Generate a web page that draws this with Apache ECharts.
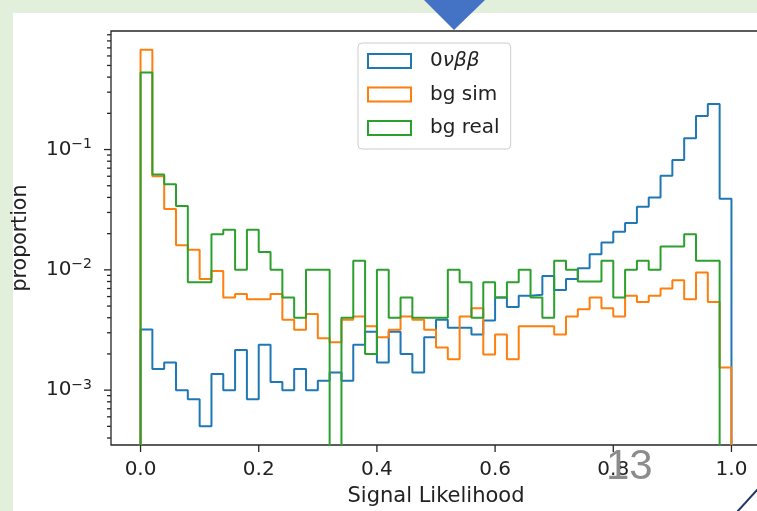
<!DOCTYPE html>
<html>
<head>
<meta charset="utf-8">
<script src="https://cdn.jsdelivr.net/npm/echarts@6/dist/echarts.min.js"></script>
<style>
  html, body { margin: 0; padding: 0; background: #e2efda; }
  #slide { position: absolute; left: 13px; top: 13px; width: 744px; height: 498px; background: #fff; }
  #main { position: absolute; left: 0; top: 0; width: 757px; height: 511px; }
</style>
</head>
<body>
<div id="slide"></div>
<div id="main"></div>
<script>
// histogram bin edges, 50 bins on [0, 1]
var binEdges = [0, 0.02, 0.04, 0.06, 0.08, 0.1, 0.12, 0.14, 0.16, 0.18,
    0.2, 0.22, 0.24, 0.26, 0.28, 0.3, 0.32, 0.34, 0.36, 0.38,
    0.4, 0.42, 0.44, 0.46, 0.48, 0.5, 0.52, 0.54, 0.56, 0.58,
    0.6, 0.62, 0.64, 0.66, 0.68, 0.7, 0.72, 0.74, 0.76, 0.78,
    0.8, 0.82, 0.84, 0.86, 0.88, 0.9, 0.92, 0.94, 0.96, 0.98, 1.0]

var signal = [0.0032, 0.0015, 0.0017, 0.0010, 0.00084, 0.00050, 0.00136, 0.0010, 0.00216, 0.00084,
    0.00238, 0.00117, 0.0010, 0.0015, 0.0010, 0.0012, 0.0014, 0.0012, 0.00238, 0.00306,
    0.0017, 0.00306, 0.0020, 0.0014, 0.00275, 0.00384, 0.0033, 0.0033, 0.0029, 0.0038,
    0.0059, 0.0049, 0.0061, 0.0062, 0.0089, 0.0068, 0.0084, 0.0103, 0.0135, 0.0169,
    0.0207, 0.0245, 0.0335, 0.040, 0.0605, 0.082, 0.124, 0.19, 0.239, 0.039]

var bgSim = [0.675, 0.060, 0.032, 0.016, 0.0147, 0.0084, 0.0098, 0.0059, 0.0063, 0.0057,
    0.0057, 0.0063, 0.00384, 0.00317, 0.0043, 0.0027, 0.0025, 0.00384, 0.0041, 0.0034,
    0.00275, 0.00317, 0.0041, 0.00384, 0.00317, 0.00226, 0.00181, 0.0041, 0.0048, 0.00198,
    0.0029, 0.00181, 0.0034, 0.0034, 0.0034, 0.0029, 0.0041, 0.0047, 0.0059, 0.0048,
    0.0041, 0.0061, 0.0054, 0.0061, 0.0070, 0.0082, 0.0057, 0.0095, 0.0054, 0.00154]

var bgReal = [0.438, 0.062, 0.0515, 0.034, 0.0079, 0.0079, 0.0198, 0.0215, 0.0100, 0.0215,
    0.0141, 0.0100, 0.0059, 0.0040, 0.0100, 0.0100, 0, 0.0040, 0.0119, 0.0020,
    0.0100, 0.0040, 0.0059, 0.0040, 0.0040, 0.0040, 0.0100, 0.0079, 0.0040, 0.0079,
    0.0059, 0.0079, 0.0100, 0.0059, 0.0040, 0.0119, 0.0100, 0.0080, 0.0080, 0.0119,
    0.0059, 0.0100, 0.0119, 0.0100, 0.0156, 0.0156, 0.0198, 0.0119, 0.0119, 0]

var seriesNames = ['0νββ', 'bg sim', 'bg real']
var colors = ['#1f77b4', '#ff7f0e', '#2ca02c']

var xTicks = [0, 0.2, 0.4, 0.6, 0.8, 1.0]
var yMajorTicks = [1e-3, 1e-2, 1e-1]
var yMinorTicks = [4e-4, 5e-4, 6e-4, 7e-4, 8e-4, 9e-4,
    2e-3, 3e-3, 4e-3, 5e-3, 6e-3, 7e-3, 8e-3, 9e-3,
    2e-2, 3e-2, 4e-2, 5e-2, 6e-2, 7e-2, 8e-2, 9e-2,
    0.2, 0.3, 0.4, 0.5, 0.6, 0.7, 0.8, 0.9]

var X_MIN = -0.05, X_MAX = 1.05
var Y_MIN = 3.5e-4, Y_MAX = 0.967
var FLOOR = 1e-6   // empty bins go below the axis, like log(0) in matplotlib

var FONT = 'DejaVu Sans'
var TEXT = '#222'

// step outline (histtype='step')
function toSteps (values) {
    var pts = [[binEdges[0], FLOOR]]
    values.forEach(function (v, i) {
        pts.push([binEdges[i], v > 0 ? v : FLOOR])
    })
    pts.push([binEdges[binEdges.length - 1], FLOOR])
    return pts
}

function histSeries (name, values, color) {
    return {
        name: name,
        type: 'line',
        step: 'end',
        data: toSteps(values),
        showSymbol: false,
        symbol: 'none',
        clip: true,
        lineStyle: { color: color, width: 2 },
        itemStyle: { color: color },
        z: 3
    }
}

// tick marks drawn outward, matplotlib style
function tickSeries (data, dir) {
    return {
        type: 'custom',
        silent: true,
        z: 6,
        data: data,
        renderItem: function (params, api) {
            var p = api.coord([api.value(0), api.value(1)])
            var len = api.value(2)
            var shape = dir === 'y'
                ? { x1: p[0] - len, y1: p[1], x2: p[0], y2: p[1] }
                : { x1: p[0], y1: p[1], x2: p[0], y2: p[1] + len }
            return { type: 'line', shape: shape, style: { stroke: '#262626', lineWidth: 1.3 } }
        }
    }
}

var yTickData = yMajorTicks.map(function (v) { return [X_MIN, v, 7] })
    .concat(yMinorTicks.map(function (v) { return [X_MIN, v, 4] }))
var xTickData = xTicks.map(function (v) { return [v, Y_MIN, 7] })

var myChart = echarts.init(document.getElementById('main'))

myChart.setOption({
    animation: false,
    backgroundColor: 'transparent',
    grid: {
        left: 111, top: 31, width: 650, height: 414,
        show: true, borderColor: '#262626', borderWidth: 1.3,
        backgroundColor: 'transparent',
        outerBoundsMode: 'none'
    },
    xAxis: {
        type: 'value', min: X_MIN, max: X_MAX,
        name: 'Signal Likelihood', nameLocation: 'middle', nameGap: 41,
        nameTextStyle: { fontFamily: FONT, fontSize: 21, color: TEXT },
        axisLine: { show: false }, axisTick: { show: false }, splitLine: { show: false },
        axisLabel: {
            margin: 15, fontFamily: FONT, fontSize: 20, color: TEXT,
            formatter: function (v) {
                for (var i = 0; i < xTicks.length; i++) {
                    if (Math.abs(v - xTicks[i]) < 1e-9) return xTicks[i].toFixed(1)
                }
                return ''
            }
        }
    },
    yAxis: {
        type: 'log', logBase: 10, min: Y_MIN, max: Y_MAX,
        name: 'proportion', nameLocation: 'middle', nameGap: 80,
        nameTextStyle: { fontFamily: FONT, fontSize: 20.5, color: TEXT },
        axisLine: { show: false }, axisTick: { show: false }, splitLine: { show: false },
        minorTick: { show: false },
        axisLabel: {
            margin: 19, fontFamily: FONT, fontSize: 20, color: TEXT,
            formatter: function (v) {
                var e = Math.log10(v)
                if (Math.abs(e - Math.round(e)) > 1e-6) return ''
                e = Math.round(e)
                return '{b|10}{e|' + (e < 0 ? '\u2212' : '') + Math.abs(e) + '}'
            },
            rich: {
                b: { fontFamily: FONT, fontSize: 20, color: TEXT },
                e: { fontFamily: FONT, fontSize: 14, color: TEXT, padding: [0, 0, 10, 0] }
            }
        }
    },
    legend: {
        orient: 'vertical', left: 358, top: 43,
        selectedMode: false,
        icon: 'rect', itemWidth: 43, itemHeight: 14, itemGap: 13.5,
        padding: [8, 11, 11, 9],
        backgroundColor: 'rgba(255,255,255,0.8)',
        borderColor: '#cccccc', borderWidth: 1, borderRadius: 4,
        data: seriesNames.map(function (n, i) {
            return { name: n, icon: 'rect', itemStyle: { color: '#fff', borderColor: colors[i], borderWidth: 2 } }
        }),
        textStyle: {
            fontFamily: FONT, fontSize: 20, color: TEXT, padding: [0, 0, 0, 14],
            rich: { it: { fontFamily: FONT, fontSize: 20, fontStyle: 'italic', color: TEXT } }
        },
        formatter: function (name) {
            return name === seriesNames[0] ? '0{it|νββ}' : name
        }
    },
    series: [
        histSeries(seriesNames[0], signal, colors[0]),
        histSeries(seriesNames[1], bgSim, colors[1]),
        histSeries(seriesNames[2], bgReal, colors[2]),
        tickSeries(yTickData, 'y'),
        tickSeries(xTickData, 'x')
    ],
    graphic: [
        // slide decorations
        { type: 'polygon', z: 100, shape: { points: [[424, 0], [485, 0], [454, 30]] }, style: { fill: '#4472c4' } },
        { type: 'text', z: 100, x: 606, y: 446, style: { text: '13', font: '42px "Liberation Sans"', fill: '#8c8c8c' } },
        { type: 'bezierCurve', z: 100, shape: { x1: 737, y1: 512, cpx1: 748, cpy1: 500, x2: 758, y2: 489 },
          style: { stroke: '#1f3864', lineWidth: 2, fill: null } }
    ]
})
</script>
</body>
</html>
